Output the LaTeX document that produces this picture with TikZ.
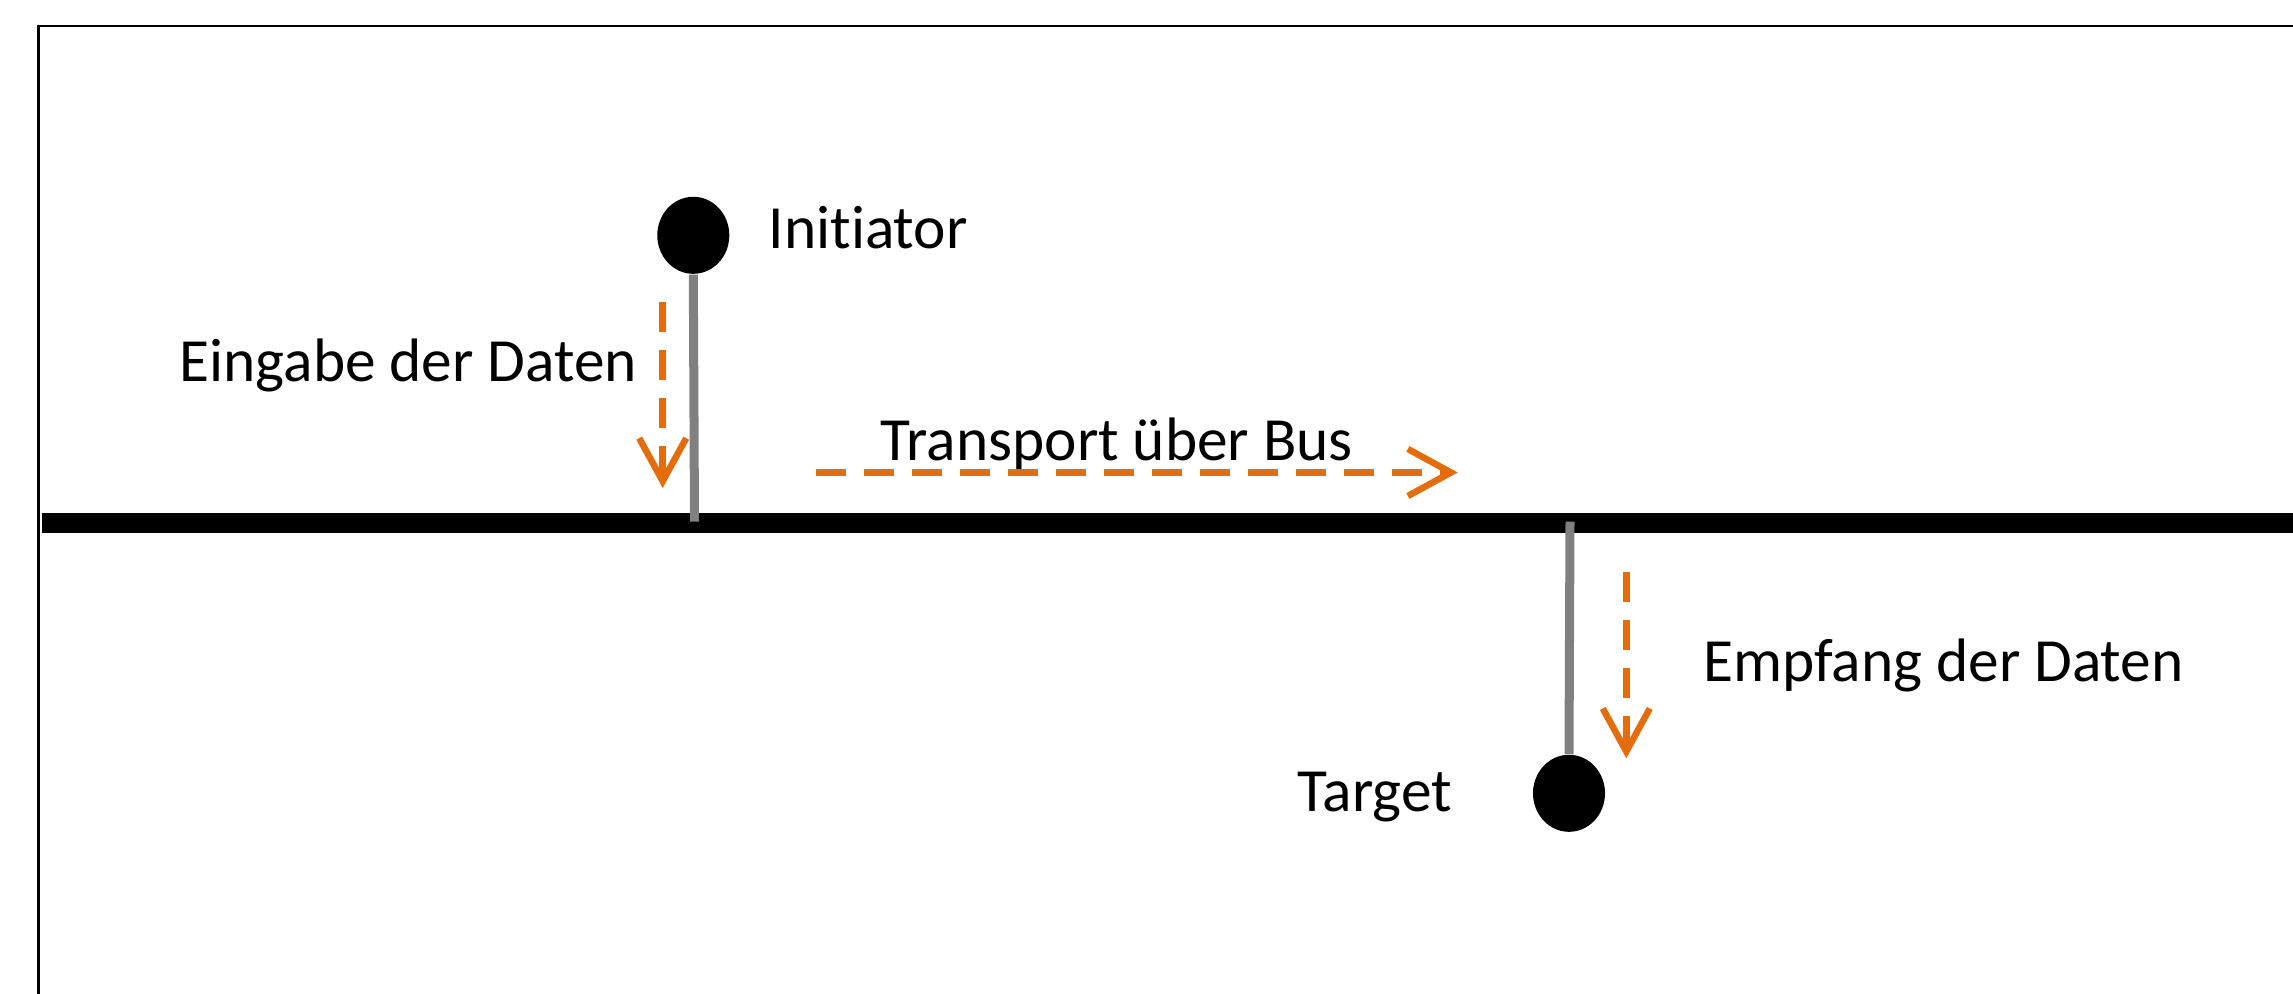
\documentclass[tikz,border=0pt]{standalone}
\usepackage{fontspec}
\setmainfont{Carlito}[Ligatures=NoCommon]
\usetikzlibrary{arrows.meta,shapes.geometric}
\definecolor{flow}{RGB}{228,108,10}
\definecolor{stemgray}{RGB}{128,128,128}
\tikzset{
  lbl/.style={anchor=base west, inner sep=0pt, font=\fontsize{17.45pt}{21pt}\selectfont},
  dot/.style={ellipse, fill=black, draw=none, minimum width=0.72cm, minimum height=0.77cm, inner sep=0pt},
  stem/.style={draw=stemgray, line width=0.09cm},
  flowarrow/.style={draw=flow, line width=0.065cm, dash pattern=on 0.3cm off 0.18cm,
    -{Straight Barb[length=0.43cm, width=0.47cm, line width=0.065cm]}},
  busline/.style={draw=black, line width=0.2cm},
  frame/.style={draw=black, line width=0.02cm}
}
\begin{document}
\begin{tikzpicture}[x=0.01cm, y=-0.01cm]
\useasboundingbox (0,0) rectangle (2293,994);
% frame
\draw[frame] (38.5,994) -- (38.5,26) -- (2293,26);
% bus
\coordinate (busL) at (41.7,523);
\coordinate (busR) at (2293,523);
\draw[busline] (busL) -- (busR);
% nodes
\node[dot] (init) at (693.3,235.3) {};
\node[dot] (targ) at (1569,793.3) {};
\coordinate (initBus) at (694.5,521.7);
\coordinate (targBus) at (1570,521.7);
\draw[stem] (init.south) -- (initBus);
\draw[stem] (targBus) -- (targ.north);
% labels
\node[lbl] (linit) at (768,248.3) {Initiator};
\node[lbl] (lein) at (179,381.7) {Eingabe der Daten};
\node[lbl] (ltrans) at (880,460) {Transport über Bus};
\node[lbl] (lemp) at (1703,681.7) {Empfang der Daten};
\node[lbl] (ltarg) at (1297,811.7) {Target};
% flow arrows
\coordinate (a1s) at (662.7,301.7);
\coordinate (a1e) at (662.7,488);
\coordinate (a2s) at (815.7,472.5);
\coordinate (a2e) at (1457.7,472.5);
\coordinate (a3s) at (1626.3,571.7);
\coordinate (a3e) at (1626.3,758.3);
\draw[flowarrow] (a1s) -- (a1e);
\draw[flowarrow] (a2s) -- (a2e);
\draw[flowarrow] (a3s) -- (a3e);
\end{tikzpicture}
\end{document}
